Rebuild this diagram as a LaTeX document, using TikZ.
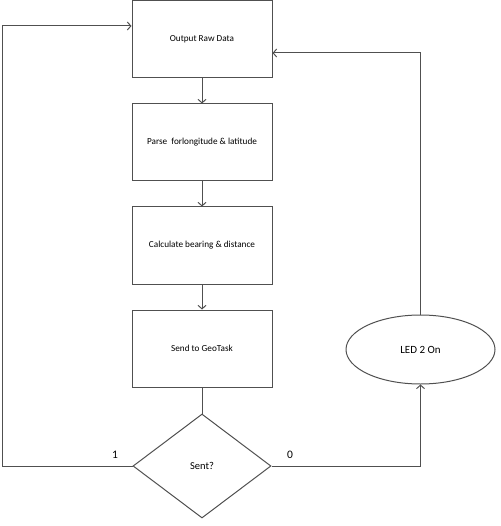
\documentclass[tikz,border=0pt]{standalone}
\usepackage{fontspec}
\setmainfont{Carlito}
\usetikzlibrary{shapes.geometric,arrows.meta}
\definecolor{linegrey}{RGB}{80,80,80}
\tikzset{procbox/.style={
    draw=linegrey, line width=1pt, minimum width=140pt, minimum height=77pt,
    inner sep=0pt, font=\fontsize{9.2}{11}\selectfont}
}
\tikzset{flowline/.style={
    draw=linegrey, line width=1pt, -{Straight Barb[length=3.5pt,width=8pt]}}
}
\begin{document}
\begin{tikzpicture}[x=1pt, y=-1pt]
        \useasboundingbox (0,0) rectangle (500,526);
        %boxes down the middle
        \node[procbox](output) at (202,39.5){Output Raw Data};
        \node[procbox](parse) at (202,142.5){Parse\ \ forlongitude \& latitude};
        \node[procbox](calc) at (202,245.5){Calculate bearing \& distance};
        \node[procbox](send) at (202,348.5){Send to GeoTask};
        %decision and led
        \node[diamond, draw=linegrey, line width=1pt, minimum width=138pt, minimum height=104pt,
          inner sep=0pt, aspect=1.33, font=\fontsize{10.5}{12}\selectfont](sent) at (202,466){Sent?};
        \node[ellipse, draw=linegrey, line width=1pt, minimum width=149pt, minimum height=69pt,
          inner sep=0pt, font=\fontsize{11}{13}\selectfont](led) at (420.5,349.5){LED 2 On};
        \coordinate(leftx) at (2,0);

        %main flow
        \draw[flowline] (output) -- (parse);
        \draw[flowline] (parse) -- (calc);
        \draw[flowline] (calc) -- (send);
        \draw[draw=linegrey, line width=1pt] (send) -- (sent);

        %loops back
        \draw[flowline] (sent.west) -- (sent.west -| leftx)
         |- ([yshift=13.5pt]output.west);
        \draw[flowline] (sent.east) -| (led.south);
        \draw[flowline] (led.north) |- ([yshift=-13.5pt]output.east);

        %branch labels
        \node[font=\fontsize{11.5}{13}\selectfont](one) at (115,455){1};
        \node[font=\fontsize{11.5}{13}\selectfont](zero) at (290,455){0};
        \end{tikzpicture}
\end{document}
